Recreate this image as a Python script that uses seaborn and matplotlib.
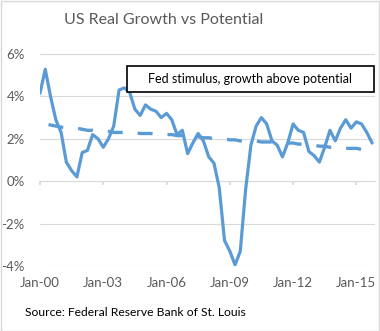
import matplotlib
matplotlib.use("Agg")
import matplotlib.pyplot as plt
import matplotlib.dates as mdates
from matplotlib.ticker import FuncFormatter
from matplotlib.patches import Rectangle
import seaborn as sns
import pandas as pd

# ---- data (quarterly, 2000Q1 - 2015Q4) ----
quarters = pd.date_range("2000-01-01", "2015-10-01", freq="QS")
real_growth = [4.15, 5.28, 4.0, 2.9, 2.3, 0.9, 0.5, 0.2,
               1.35, 1.45, 2.2, 2.0, 1.6, 2.0, 2.6, 4.3,
               4.4, 4.2, 3.4, 3.1, 3.6, 3.4, 3.3, 3.0,
               3.2, 2.9, 2.2, 2.4, 1.3, 1.8, 2.25, 1.9,
               1.15, 0.85, -0.3, -2.8, -3.3, -3.95, -3.3, -0.4,
               1.7, 2.6, 3.0, 2.7, 1.9, 1.7, 1.15, 1.8,
               2.7, 2.4, 2.3, 1.4, 1.2, 0.9, 1.6, 2.4,
               1.9, 2.5, 2.9, 2.5, 2.8, 2.7, 2.3, 1.8]
potential = [2.75, 2.7, 2.65, 2.6, 2.55, 2.5, 2.5, 2.5,
             2.45, 2.4, 2.4, 2.35, 2.35, 2.35, 2.3, 2.3,
             2.3, 2.3, 2.3, 2.25, 2.25, 2.25, 2.2, 2.2,
             2.2, 2.2, 2.15, 2.15, 2.1, 2.1, 2.1, 2.05,
             2.05, 2.0, 2.0, 2.0, 1.95, 1.95, 1.9, 1.9,
             1.9, 1.9, 1.85, 1.85, 1.85, 1.85, 1.8, 1.8,
             1.8, 1.75, 1.75, 1.75, 1.7, 1.65, 1.65, 1.6,
             1.6, 1.6, 1.55, 1.55, 1.55, 1.5, 1.5, 1.5]
y_ticks = [-4, -2, 0, 2, 4, 6]
x_tick_years = [2000, 2003, 2006, 2009, 2012, 2015]

title = "US Real Growth vs Potential"
note = "Fed stimulus, growth above potential"
source = "Source: Federal Reserve Bank of St. Louis"

df = pd.DataFrame({"date": quarters, "growth": real_growth, "potential": potential})

sns.set_theme(style="white")
plt.rcParams["font.family"] = ["Lato", "DejaVu Sans"]
plt.rcParams["axes.unicode_minus"] = False

BLUE = "#5B9BD5"
GRID = "#d9d9d9"
GRAY = "#595959"

W, H = 380, 331
fig = plt.figure(figsize=(W / 100, H / 100), dpi=100)
fig.patch.set_facecolor("white")
fig.patches.append(Rectangle((0.5 / W, 0.5 / H), 1 - 1.5 / W, 1 - 1.5 / H,
                             transform=fig.transFigure, fill=False,
                             edgecolor=GRID, lw=1.0))

ax = fig.add_axes([40 / W, (H - 266) / H, 335 / W, 212 / H])

sns.lineplot(data=df, x="date", y="growth", ax=ax, color=BLUE, lw=2.3,
             solid_capstyle="round", solid_joinstyle="round")
sns.lineplot(data=df, x="date", y="potential", ax=ax, color=BLUE, lw=2.4,
             linestyle=(6.4, (4.5, 4.5)))

ax.set_ylim(-4, 6)
ax.set_xlim(pd.Timestamp("2000-01-01"), pd.Timestamp("2015-11-20"))
ax.set_yticks(y_ticks)
ax.yaxis.set_major_formatter(FuncFormatter(lambda v, p: f"{v:.0f}%"))
ax.set_xticks([pd.Timestamp(f"{y}-01-01") for y in x_tick_years])
ax.xaxis.set_major_formatter(mdates.DateFormatter("%b-%y"))
ax.set_xlabel("")
ax.set_ylabel("")
ax.grid(axis="y", color=GRID, lw=0.8)
ax.grid(axis="x", visible=False)
for s in ax.spines.values():
    s.set_visible(False)
ax.tick_params(axis="both", length=0, colors=GRAY, labelsize=9.5)
ax.tick_params(axis="y", pad=11)
ax.tick_params(axis="x", pad=8)

# axis line at 0% with tick marks
sec = ax.secondary_xaxis(0.4)
sec.set_xticks([pd.Timestamp(f"{y}-01-01") for y in x_tick_years])
sec.tick_params(axis="x", direction="out", length=3, color=GRID, labelbottom=False,
                labeltop=False)
sec.spines["bottom"].set_color(GRID)
sec.spines["bottom"].set_linewidth(0.8)

fig.text(164 / W, 1 - 20 / H, title, ha="center", va="center", fontsize=11.5,
         color=GRAY)

# annotation box
bx0, bx1, by0, by1 = 127, 374, 66, 92
fig.patches.append(Rectangle((bx0 / W, 1 - by1 / H), (bx1 - bx0) / W, (by1 - by0) / H,
                             transform=fig.transFigure, facecolor="white",
                             edgecolor="black", lw=1.2, zorder=5))
fig.text((bx0 + bx1) / 2 / W, 1 - (by0 + by1) / 2 / H, note, ha="center",
         va="center", fontsize=9, color="black", zorder=6)

fig.text(25 / W, 1 - 313 / H, source, ha="left", va="center", fontsize=8.7,
         color="black")

fig.savefig("out.png", dpi=100)
